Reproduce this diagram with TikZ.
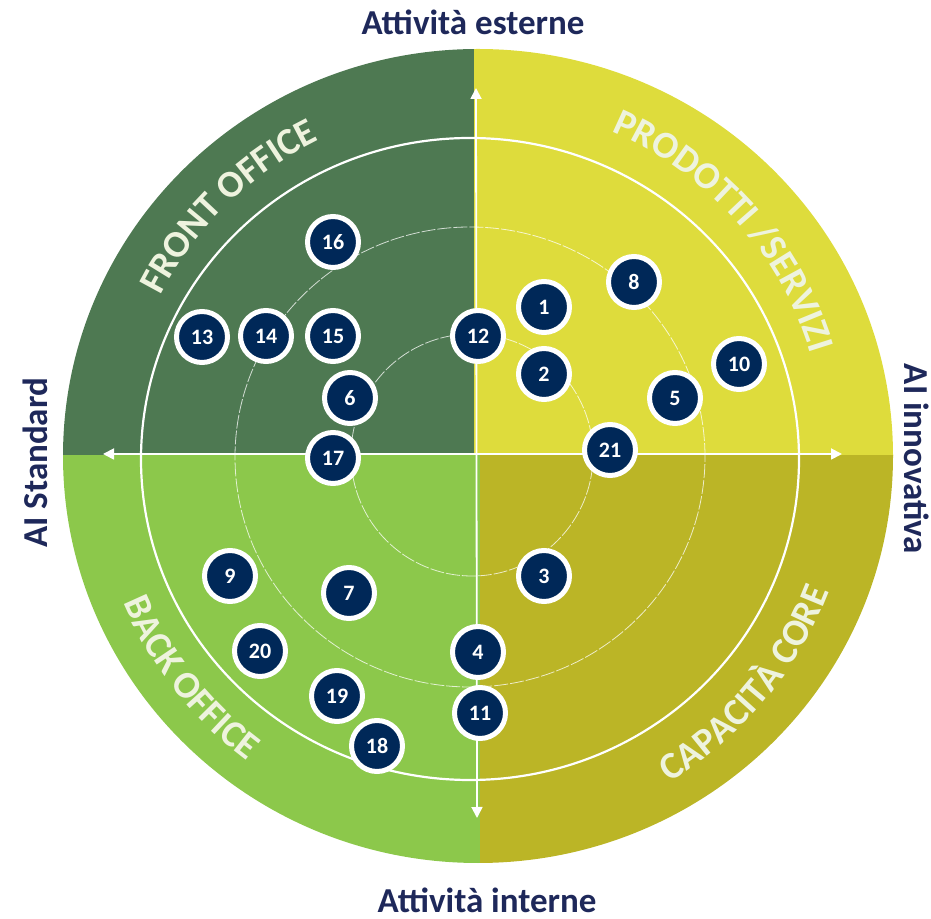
\documentclass[tikz,border=0pt]{standalone}
\usepackage{fontspec}
\setmainfont{Carlito}
\usetikzlibrary{arrows.meta,decorations.text}
\definecolor{tlcol}{RGB}{78,121,82}
\definecolor{trcol}{RGB}{222,220,60}
\definecolor{blcol}{RGB}{140,200,75}
\definecolor{brcol}{RGB}{187,181,38}
\definecolor{navy}{RGB}{0,40,88}
\definecolor{labnavy}{RGB}{30,40,90}
\definecolor{arctext}{RGB}{238,243,222}
\begin{document}
\begin{tikzpicture}[x=1pt,y=1pt,
  numdot/.style={circle, fill=navy, draw=white, line width=5pt, minimum size=51pt, inner sep=0pt, text=white, font=\fontsize{22}{22}\selectfont\bfseries},
  axlab/.style={text=labnavy, font=\fontsize{35}{35}\selectfont\bfseries, inner sep=0pt, anchor=base},
  axarrow/.style={draw=white, line width=1.8pt, {Triangle[width=11pt,length=11pt]}-{Triangle[width=11pt,length=11pt]}},
  mainring/.style={draw=white, line width=2.2pt},
  thinring/.style={draw=white, draw opacity=0.75, line width=0.8pt, dash pattern=on 14pt off 2pt},
  arclab/.style={decorate, decoration={text along path, text align=center, text color=arctext, text={|\fontsize{38}{38}\selectfont\bfseries|#1}}}
]
\useasboundingbox (0,0) rectangle (931,918);
% quadrants
\begin{scope}
  \clip (0,462) rectangle (474,918);
  \fill[tlcol] (478,462) ellipse [x radius=415, y radius=407];
\end{scope}
\begin{scope}
  \clip (474,462) rectangle (931,918);
  \fill[trcol] (478,462) ellipse [x radius=415, y radius=407];
\end{scope}
\begin{scope}
  \clip (0,0) rectangle (480,462);
  \fill[blcol] (478,462) ellipse [x radius=415, y radius=407];
\end{scope}
\begin{scope}
  \clip (480,0) rectangle (931,462);
  \fill[brcol] (478,462) ellipse [x radius=415, y radius=407];
\end{scope}
% rings
\draw[mainring] (470,459) ellipse [x radius=329, y radius=321];
\draw[thinring] (470,461) ellipse [x radius=235, y radius=230];
\draw[thinring] (472,463) ellipse [x radius=121, y radius=121];
% curved quadrant labels
\begin{scope}[shift={(474,462)}]
  \path[arclab={FRONT OFFICE}] (175:352) arc[start angle=175, end angle=94, radius=352];
  \path[arclab={PRODOTTI /SERVIZI}] (88:352) arc[start angle=88, end angle=-4, radius=352];
  \path[arclab={BACK OFFICE}] (180:380) arc[start angle=180, end angle=256, radius=380];
  \path[arclab={CAPACITÀ CORE}] (280:380) arc[start angle=280, end angle=360, radius=380];
\end{scope}
% axes
\coordinate (vtop) at (476,830);
\coordinate (vbot) at (477,100);
\coordinate (hleft) at (103,464);
\coordinate (hright) at (842,464);
\draw[axarrow] (vbot) -- (vtop);
\draw[axarrow] (hleft) -- (hright);
% axis labels
\node[axlab] (lext) at (473,883) {Attività esterne};
\node[axlab] (lint) at (487,6) {Attività interne};
\node[axlab, rotate=90] (lstd) at (47,455) {AI Standard};
\node[axlab, rotate=-90] (linn) at (904,459) {AI innovativa};
% numbered dots
\node[numdot] (n16) at (333,676) {16};
\node[numdot] (n13) at (202,581) {13};
\node[numdot] (n14) at (266,582) {14};
\node[numdot] (n15) at (333,582) {15};
\node[numdot] (n6) at (350,520) {6};
\node[numdot] (n17) at (333,460) {17};
\node[numdot] (n12) at (478,582) {12};
\node[numdot] (n1) at (544,611) {1};
\node[numdot] (n8) at (634,636) {8};
\node[numdot] (n2) at (544,544) {2};
\node[numdot] (n10) at (739,554) {10};
\node[numdot] (n5) at (675,520) {5};
\node[numdot] (n21) at (610,468) {21};
\node[numdot] (n3) at (544,342) {3};
\node[numdot] (n4) at (478,266) {4};
\node[numdot] (n11) at (480,205) {11};
\node[numdot] (n9) at (230,342) {9};
\node[numdot] (n7) at (349,325) {7};
\node[numdot] (n20) at (260,267) {20};
\node[numdot] (n19) at (337,222) {19};
\node[numdot] (n18) at (377,172) {18};
\end{tikzpicture}
\end{document}
